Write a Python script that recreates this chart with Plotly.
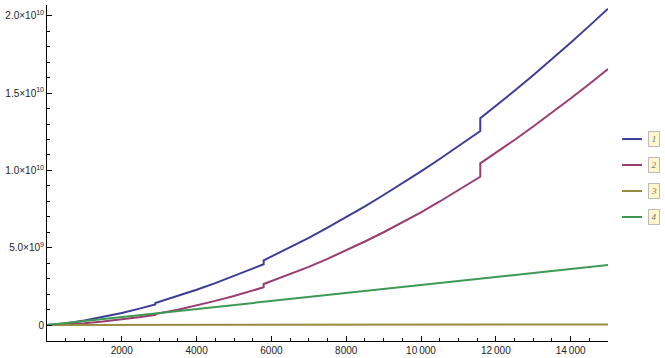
import plotly.graph_objects as go

# ---- data (values in units of 1e9) ----
x_steps = [0, 500, 1000, 1500, 2000, 2500, 2896, 2896, 3500, 4000, 4500, 5000, 5500,
           5793, 5793, 6500, 7000, 7500, 8000, 8500, 9000, 9500, 10000, 10500, 11000,
           11585, 11585, 12000, 12500, 13000, 13500, 14000, 14500, 15000]
s1 = [0, 0.104, 0.285, 0.514, 0.779, 1.077, 1.333, 1.42, 1.876, 2.28, 2.71, 3.17, 3.65,
      3.93, 4.18, 5.02, 5.64, 6.30, 6.97, 7.68, 8.41, 9.16, 9.94, 10.74, 11.56,
      12.55, 13.37, 14.17, 15.15, 16.16, 17.20, 18.26, 19.35, 20.46]
s2 = [0, 0.040, 0.120, 0.230, 0.365, 0.522, 0.66, 0.71, 0.99, 1.26, 1.56, 1.88, 2.23,
      2.44, 2.65, 3.28, 3.76, 4.28, 4.82, 5.40, 6.00, 6.63, 7.29, 7.99, 8.71,
      9.59, 10.46, 11.14, 11.97, 12.84, 13.73, 14.65, 15.59, 16.56]
x_smooth = [0, 500, 1000, 1500, 2000, 2500, 3000, 3500, 4000, 4500, 5000, 5500, 6000,
            6500, 7000, 7500, 8000, 8500, 9000, 9500, 10000, 10500, 11000, 11500,
            12000, 12500, 13000, 13500, 14000, 14500, 15000]
s3 = [0, 0.001, 0.002, 0.003, 0.004, 0.005, 0.006, 0.007, 0.008, 0.009, 0.010, 0.011,
      0.012, 0.013, 0.014, 0.015, 0.016, 0.017, 0.018, 0.019, 0.020, 0.021, 0.022,
      0.023, 0.024, 0.025, 0.026, 0.027, 0.028, 0.029, 0.030]
s4 = [0, 0.13, 0.26, 0.39, 0.52, 0.65, 0.78, 0.90, 1.02, 1.14, 1.27, 1.40, 1.53,
      1.66, 1.79, 1.92, 2.05, 2.18, 2.31, 2.44, 2.57, 2.70, 2.83, 2.96, 3.09, 3.23,
      3.36, 3.49, 3.62, 3.75, 3.88]
names = ["1", "2", "3", "4"]
colors = ["#3d3d99", "#993d71", "#998b3d", "#3d9954"]

x_ticks = [2000, 4000, 6000, 8000, 10000, 12000, 14000]
x_ticktext = ["2000", "4000", "6000", "8000", "10\u2009000", "12\u2009000", "14\u2009000"]
y_ticks = [0, 5e9, 1e10, 1.5e10, 2e10]
y_ticktext = ["0", "5.0\u00d710<sup>9</sup>", "1.0\u00d710<sup>10</sup>",
              "1.5\u00d710<sup>10</sup>", "2.0\u00d710<sup>10</sup>"]

SCALE = 1e9
series = [(x_steps, s1), (x_steps, s2), (x_smooth, s3), (x_smooth, s4)]

fig = go.Figure()
for (xs, ys), nm, col in zip(series, names, colors):
    fig.add_trace(go.Scatter(x=xs, y=[v * SCALE for v in ys], mode="lines", name=nm,
                             line=dict(color=col, width=2), showlegend=False))

font = dict(family="Liberation Sans", size=10, color="#222222")
fig.update_layout(
    width=665, height=358,
    margin=dict(l=47, r=57, t=5, b=17),
    paper_bgcolor="white", plot_bgcolor="white",
    font=font,
    xaxis=dict(range=[0, 15000], showgrid=False, zeroline=False, showline=True,
               linecolor="#000000", linewidth=1, ticks="inside", ticklen=5,
               tickcolor="#000000", tickvals=x_ticks, ticktext=x_ticktext,
               minor=dict(ticks="inside", ticklen=3, dtick=500, tick0=0,
                          tickcolor="#000000", showgrid=False),
               automargin=False, tickfont=font),
    yaxis=dict(range=[-1.035e9, 20.7e9], showgrid=False, zeroline=False, showline=True,
               linecolor="#000000", linewidth=1, ticks="inside", ticklen=5,
               tickcolor="#000000", tickvals=y_ticks, ticktext=y_ticktext,
               minor=dict(ticks="inside", ticklen=3, dtick=1e9, tick0=0,
                          tickcolor="#000000", showgrid=False),
               automargin=False, tickfont=font),
)

# manual legend
leg_y = [0.601, 0.5238, 0.4464, 0.369]
for nm, col, yy in zip(names, colors, leg_y):
    fig.add_shape(type="line", xref="paper", yref="paper", x0=1.025, x1=1.0606,
                  y0=yy, y1=yy, line=dict(color=col, width=2))
    fig.add_annotation(xref="paper", yref="paper", x=1.082, y=yy, text="<i>" + nm + "</i>",
                       showarrow=False, xanchor="center", yanchor="middle",
                       font=dict(family="Liberation Serif", size=9, color="#777777"),
                       bgcolor="#fff6cc", bordercolor="#bbbbbb", borderwidth=1,
                       borderpad=2, width=6, height=10)

fig.write_html("out.html")
